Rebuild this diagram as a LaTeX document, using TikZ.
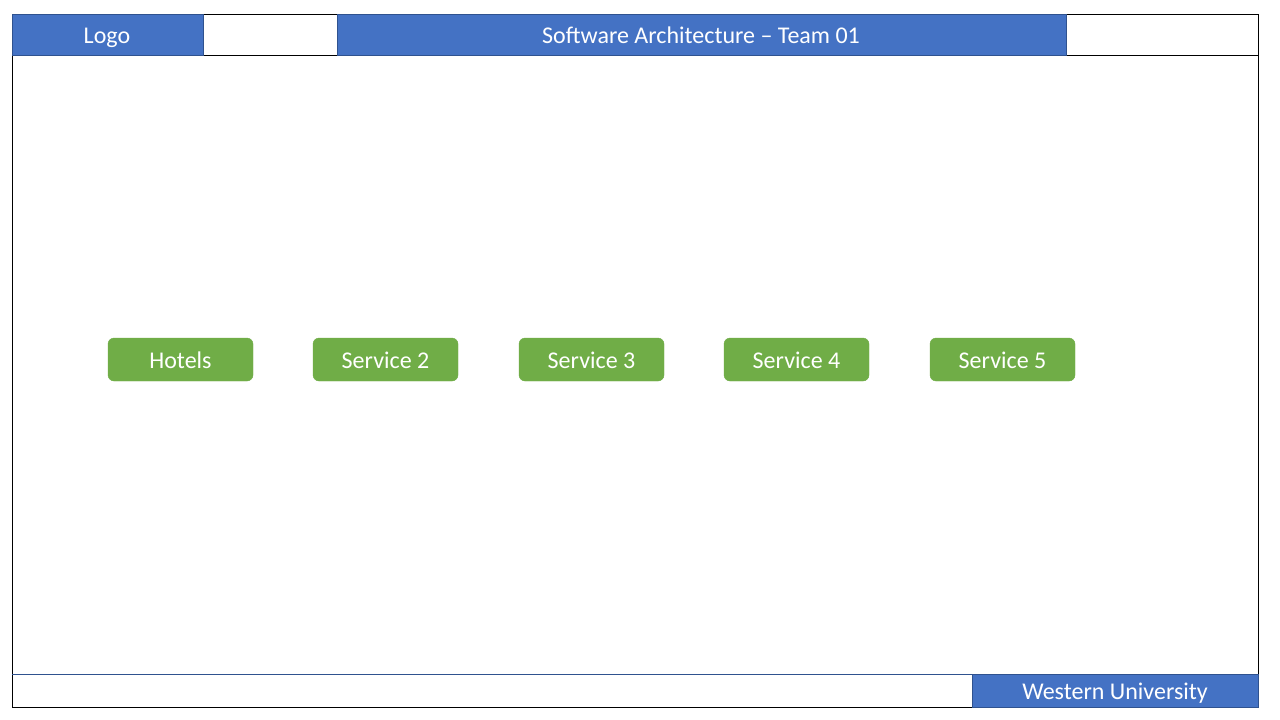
\documentclass[tikz,border=0pt]{standalone}
\usepackage{fontspec}
\setmainfont{Carlito}
\definecolor{hblue}{HTML}{4472C4}
\definecolor{hbluedark}{HTML}{2F528F}
\definecolor{sgreen}{HTML}{70AD47}
\begin{document}
\begin{tikzpicture}[x=1pt,y=-1pt,
  bluebox/.style={draw=hbluedark,line width=0.8pt,fill=hblue},
  whitebox/.style={draw=black,line width=0.8pt,fill=white},
  lbl/.style={text=white,font=\fontsize{24}{28}\selectfont,inner sep=0pt,anchor=base},
  svc/.style={draw=sgreen,fill=sgreen,rounded corners=6pt,minimum width=145pt,minimum height=43pt,inner sep=0pt}]
\useasboundingbox (0,0) rectangle (1280,720);
\fill[white] (0,0) rectangle (1280,720);
% outer frame
\draw[black,line width=0.8pt] (12,14) rectangle (1258,707);
% header
\draw[whitebox] (203,14) rectangle (337,55);
\draw[whitebox] (1066,14) rectangle (1258,55);
\draw[bluebox] (12,14) rectangle (203,55);
\draw[bluebox] (337,14) rectangle (1066,55);
\node[lbl] (logo) at (107,43.5) {Logo};
\node[lbl] (title) at (701,43.5) {Software Architecture – Team 01};
% footer
\draw[hbluedark,line width=0.8pt] (12,674) -- (972,674);
\draw[bluebox] (972,674) rectangle (1258,707);
\node[lbl] (wu) at (1115,699.3) {Western University};
% services
\foreach \n/\x/\t in {s1/180.5/Hotels,s2/385.5/Service 2,s3/591.5/Service 3,s4/796.5/Service 4,s5/1002.5/Service 5}{
  \node[svc] (\n) at (\x,359.5) {};
  \node[lbl] (\n-t) at (\x,368) {\t};
}
\end{tikzpicture}
\end{document}
